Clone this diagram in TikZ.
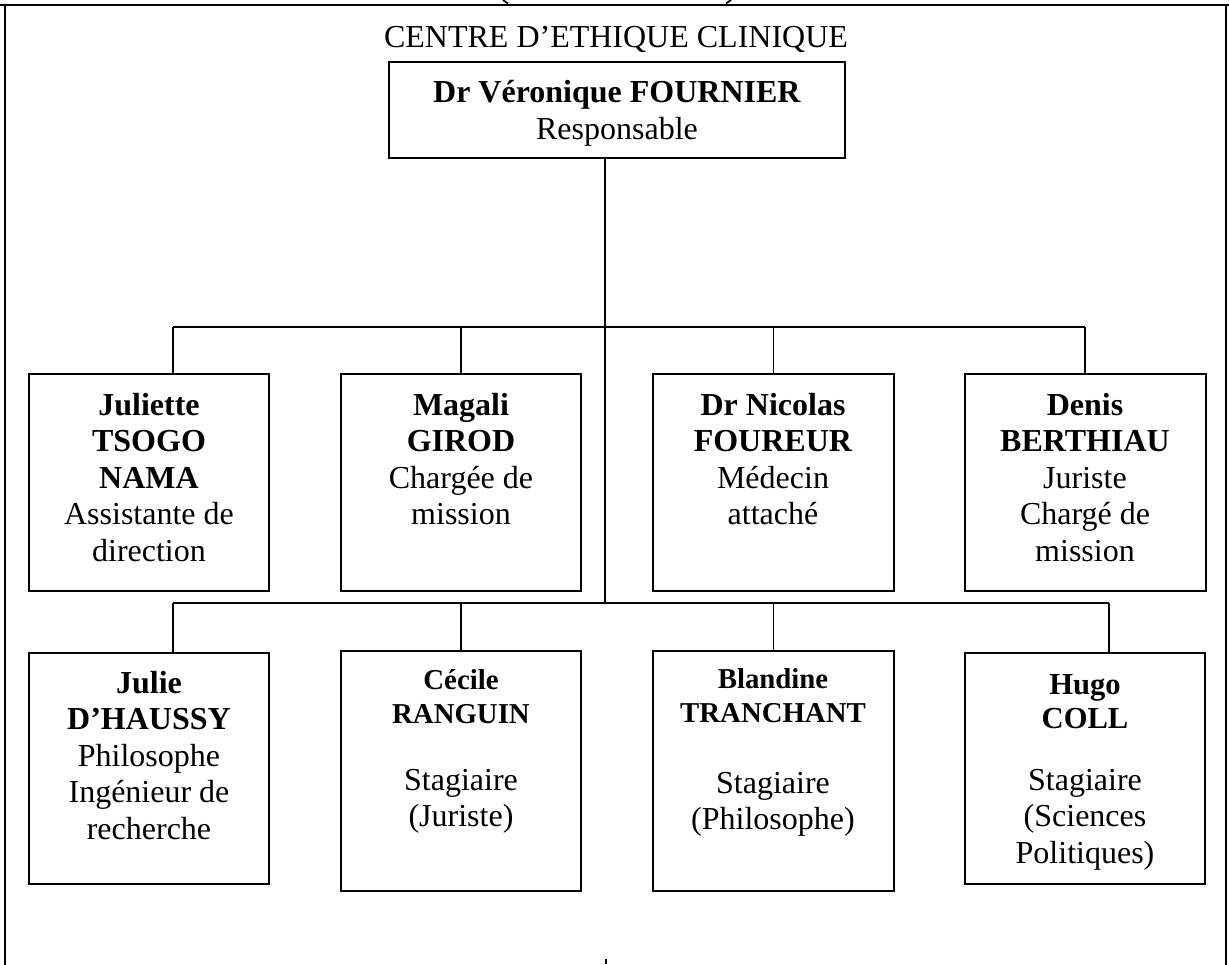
\documentclass[tikz,border=0pt]{standalone}
\usepackage{fontspec}
\setmainfont{Liberation Serif}
\newcommand{\ctab}[1]{\begin{tabular}[t]{@{}c@{}}#1\end{tabular}}
\begin{document}
\begin{tikzpicture}[x=0.5pt,y=-0.5pt,
  frame/.style={line width=1pt},
  card/.style={draw, line width=1pt, rectangle, inner sep=0pt, outer sep=0pt, anchor=north west, minimum width=120pt},
  link/.style={line width=0.85pt},
  txt/.style={inner sep=0pt, anchor=base, font=\fontsize{16}{18.25}\selectfont},
  smallname/.style={inner sep=0pt, anchor=base, font=\fontsize{14.4}{17.25}\selectfont}]
\useasboundingbox (0,0) rectangle (1229,964);
% outer frame
\draw[frame] (0,5) -- (1229,5);
\draw[frame] (5,5) -- (5,980);
\draw[frame] (1226,5) -- (1226,980);
% cut-off fragments at the page edges
\draw[line width=0.9pt] (503,0) -- (508,3.5);
\draw[line width=0.9pt] (731,0) -- (726,3.5);
\draw[line width=0.9pt] (606,959) -- (606,964);
% title
\node[txt] (title) at (616,47) {CENTRE D’ETHIQUE CLINIQUE};
% head
\node[card, minimum width=228pt, minimum height=48pt] (vf) at (389,62) {};
\node[txt, font=\fontsize{16}{18.5}\selectfont] (vft) at (617,102) {\ctab{\textbf{Dr Véronique FOURNIER}\\Responsable}};
% row 1
\node[card, minimum height=108.5pt] (jt) at (29,374) {};
\node[card, minimum height=108.5pt] (mg) at (341,374) {};
\node[card, minimum height=108.5pt, minimum width=120.5pt] (nf) at (653,374) {};
\node[card, minimum height=108.5pt, minimum width=120.5pt] (db) at (965,374) {};
\node[txt] (jtt) at (149,415) {\ctab{\textbf{Juliette}\\\textbf{TSOGO}\\\textbf{NAMA}\\Assistante de\\direction}};
\node[txt] (mgt) at (461,415) {\ctab{\textbf{Magali}\\\textbf{GIROD}\\Chargée de\\mission}};
\node[txt] (nft) at (773,415) {\ctab{\textbf{Dr Nicolas}\\\textbf{FOUREUR}\\Médecin\\attaché}};
\node[txt] (dbt) at (1085,415) {\ctab{\textbf{Denis}\\\textbf{BERTHIAU}\\Juriste\\Chargé de\\mission}};
% row 2
\node[card, minimum height=115.5pt] (jd) at (29,653) {};
\node[card, minimum height=120pt] (cr) at (341,651) {};
\node[card, minimum height=120pt, minimum width=120.5pt] (bt) at (653,651) {};
\node[card, minimum height=115.5pt] (hc) at (965,653) {};
\node[txt] (jdt) at (149,693) {\ctab{\textbf{Julie}\\\textbf{D’HAUSSY}\\Philosophe\\Ingénieur de\\recherche}};
\node[smallname] (crn) at (461,689) {\ctab{\textbf{Cécile}\\\textbf{RANGUIN}}};
\node[txt] (crr) at (461,790) {\ctab{Stagiaire\\(Juriste)}};
\node[smallname] (btn) at (773,688) {\ctab{\textbf{Blandine}\\\textbf{TRANCHANT}}};
\node[txt] (btr) at (773,793) {\ctab{Stagiaire\\(Philosophe)}};
\node[smallname, font=\fontsize{15.3}{17.25}\selectfont] (hcn) at (1085,694) {\ctab{\textbf{Hugo}\\\textbf{COLL}}};
\node[txt] (hcr) at (1085,790) {\ctab{Stagiaire\\(Sciences\\Politiques)}};
% bus coordinates
\coordinate (ubL) at (173,327);
\coordinate (ubR) at (1085,327);
\coordinate (lbL) at (173,603);
\coordinate (lbR) at (1109,603);
\coordinate (lbM) at (605,603);
% connectors
\draw[link] (vf.south -| lbM) -- (lbM);
\draw[link] (ubL) -- (ubR);
\draw[link] (ubL) -- (ubL |- jt.north);
\draw[link] (mg.north) -- (mg.north |- ubL);
\draw[link] (nf.north) -- (nf.north |- ubL);
\draw[link] (ubR) -- (ubR |- db.north);
\draw[link] (lbL) -- (lbR);
\draw[link] (lbL) -- (lbL |- jd.north);
\draw[link] (cr.north) -- (cr.north |- lbL);
\draw[link] (bt.north) -- (bt.north |- lbL);
\draw[link] (lbR) -- (lbR |- hc.north);
\end{tikzpicture}
\end{document}
